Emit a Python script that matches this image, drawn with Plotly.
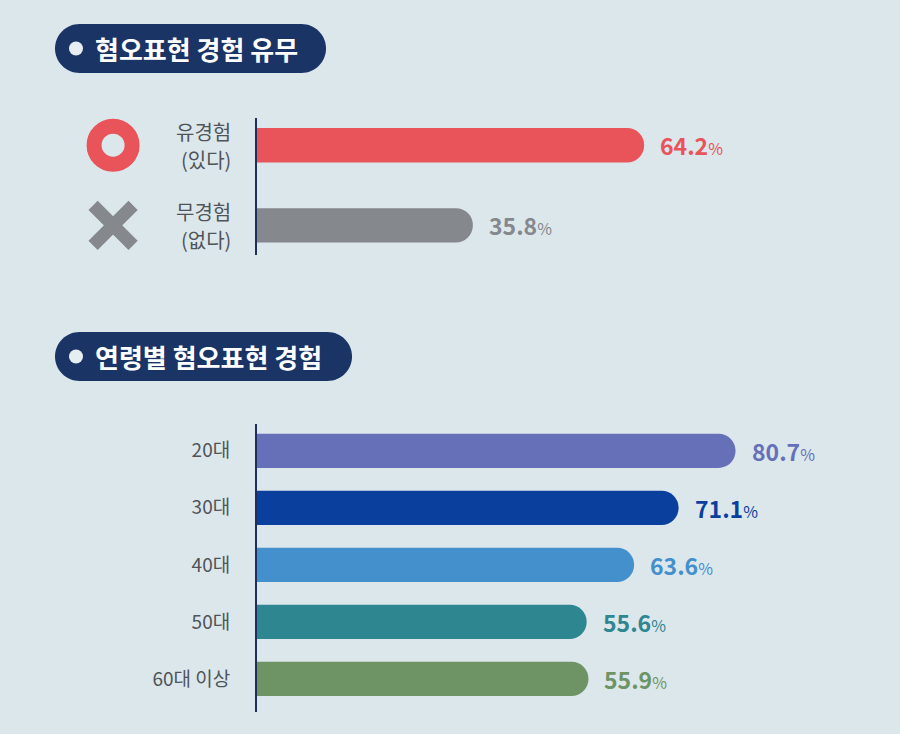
import plotly.graph_objects as go

# 혐오표현 경험 유무
exp_labels = ['유경험', '무경험']
exp_sub = ['(있다)', '(없다)']
exp_values = [64.2, 35.8]
exp_colors = ['#e8545a', '#85888c']
exp_icons = ['circle-open', 'x-thin-open']

# 연령별 혐오표현 경험
age_labels = ['20대', '30대', '40대', '50대', '60대 이상']
age_values = [80.7, 71.1, 63.6, 55.6, 55.9]
age_colors = ['#6670b9', '#0b3f9d', '#4490cc', '#2e8690', '#6e9466']

titles = ['혐오표현 경험 유무', '연령별 혐오표현 경험']

BG = '#dce7ec'
NAVY = '#1a3466'
LABEL = '#4f5459'
FONT = 'Noto Sans CJK KR'
W, H = 900, 734


def px(x):
    return x / W


def py(y):
    return 1 - y / H


def pill(x0, y0, x1, y1):
    # rounded pill path in paper coords
    r = (y1 - y0) / 2
    k = 0.5523 * r
    pts = [
        f'M {px(x0 + r)},{py(y0)}',
        f'L {px(x1 - r)},{py(y0)}',
        f'C {px(x1 - r + k)},{py(y0)} {px(x1)},{py(y0 + r - k)} {px(x1)},{py(y0 + r)}',
        f'C {px(x1)},{py(y0 + r + k)} {px(x1 - r + k)},{py(y1)} {px(x1 - r)},{py(y1)}',
        f'L {px(x0 + r)},{py(y1)}',
        f'C {px(x0 + r - k)},{py(y1)} {px(x0)},{py(y0 + r + k)} {px(x0)},{py(y0 + r)}',
        f'C {px(x0)},{py(y0 + r - k)} {px(x0 + r - k)},{py(y0)} {px(x0 + r)},{py(y0)}',
        'Z',
    ]
    return ' '.join(pts)


def value_text(v):
    return f'<b>{v:.1f}</b><span style="font-size:16px">%</span>'


fig = go.Figure()

fig.add_trace(go.Bar(
    x=exp_values, y=exp_labels, orientation='h', width=0.43,
    marker=dict(color=exp_colors, line=dict(width=0)),
    xaxis='x', yaxis='y', hoverinfo='skip'
))
fig.add_trace(go.Bar(
    x=age_values, y=age_labels, orientation='h', width=0.6,
    marker=dict(color=age_colors, line=dict(width=0)),
    xaxis='x2', yaxis='y2', hoverinfo='skip'
))

# O / X icons next to the first group (own x axis on the left side)
fig.add_trace(go.Scatter(
    x=[0.44, 0.44], y=exp_labels, mode='markers',
    marker=dict(symbol=exp_icons, size=[38, 40], opacity=1,
                color=exp_colors, line=dict(width=[15, 13], color=exp_colors)),
    xaxis='x3', yaxis='y', hoverinfo='skip'
))

annotations = []
# two-line labels of the first group
for lab, sub in zip(exp_labels, exp_sub):
    for txt, shift in [(lab, 14), (sub, -14)]:
        annotations.append(dict(x=px(257), y=lab, xref='paper', yref='y', text=txt,
                                showarrow=False, xanchor='right', xshift=-24, yshift=shift,
                                font=dict(family=FONT, size=20, color=LABEL)))
for lab, v, c in zip(exp_labels, exp_values, exp_colors):
    annotations.append(dict(x=v, y=lab, xref='x', yref='y', text=value_text(v),
                            showarrow=False, xanchor='left', xshift=14,
                            font=dict(family=FONT, size=23, color=c)))
for lab, v, c in zip(age_labels, age_values, age_colors):
    annotations.append(dict(x=v, y=lab, xref='x2', yref='y2', text=value_text(v),
                            showarrow=False, xanchor='left', xshift=14,
                            font=dict(family=FONT, size=23, color=c)))

# title pills
shapes = []
for title, (top, right) in zip(titles, [(24, 326), (332, 352)]):
    bottom = top + 49
    mid = (top + bottom) / 2
    shapes.append(dict(type='path', path=pill(55, top, right, bottom), xref='paper', yref='paper',
                       fillcolor=NAVY, line=dict(width=0), layer='below'))
    shapes.append(dict(type='circle', xref='paper', yref='paper',
                       x0=px(69), x1=px(83), y0=py(mid + 7), y1=py(mid - 7),
                       fillcolor='#e6eef2', line=dict(width=0)))
    annotations.append(dict(x=px(93), y=py(mid), xref='paper', yref='paper', text=f'<b>{title}</b>',
                            showarrow=False, xanchor='left', yanchor='middle',
                            font=dict(family=FONT, size=26, color='white')))

axis_common = dict(showgrid=False, zeroline=False, showticklabels=False, fixedrange=True)

fig.update_layout(
    width=W, height=H,
    margin=dict(l=0, r=0, t=0, b=0),
    paper_bgcolor=BG, plot_bgcolor=BG,
    showlegend=False,
    barcornerradius=17,
    font=dict(family=FONT),
    xaxis=dict(domain=[px(257), 1], range=[0, 643 / 6.03], anchor='y', **axis_common),
    xaxis2=dict(domain=[px(257), 1], range=[0, 643 / 5.93], anchor='y2', **axis_common),
    xaxis3=dict(domain=[0, px(257)], range=[0, 1], anchor='y', showline=False, **axis_common),
    yaxis=dict(domain=[py(255), py(118)], range=[1.37, -0.34], anchor='x',
               showgrid=False, zeroline=False, showline=True, linecolor='#1f2d5c', linewidth=2,
               showticklabels=False, fixedrange=True),
    yaxis2=dict(domain=[py(712), py(424)], range=[4.58, -0.47], anchor='x2',
                showgrid=False, zeroline=False, showline=True, linecolor='#1f2d5c', linewidth=2,
                ticks='', ticklabelstandoff=21, fixedrange=True,
                tickfont=dict(family=FONT, size=19, color=LABEL)),
    annotations=annotations,
    shapes=shapes,
)

fig.write_html('out.html', config={'displayModeBar': False},
               post_script="document.body.style.margin='0';")
